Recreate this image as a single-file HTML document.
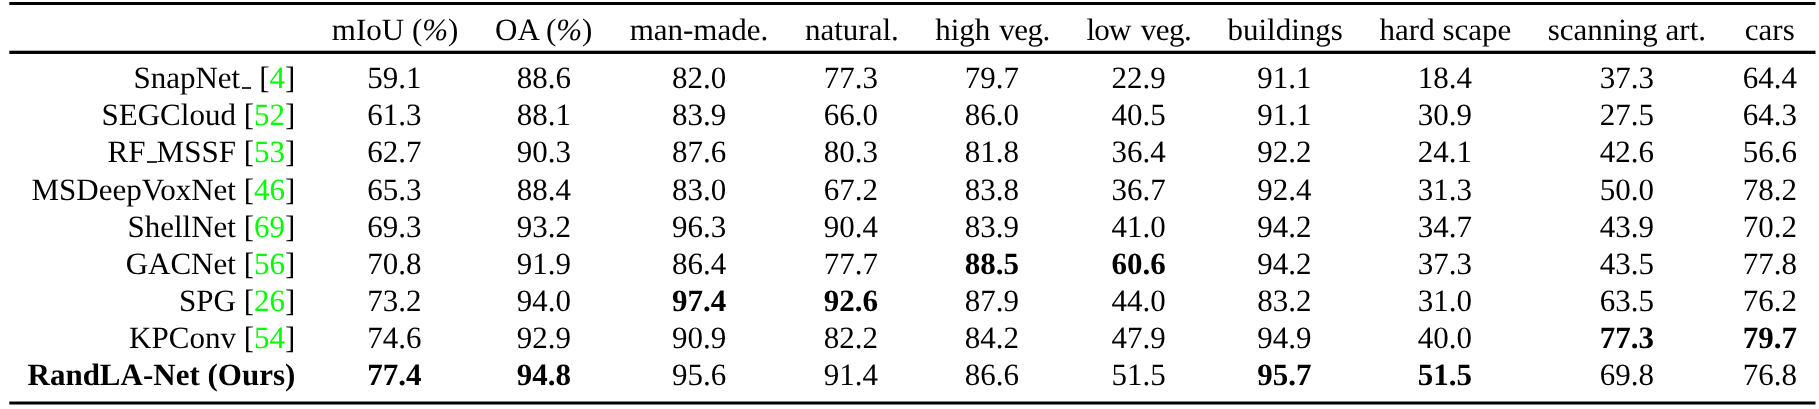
<!DOCTYPE html>
<html><head><meta charset="utf-8"><title>table</title>
<style>
html,body{margin:0;padding:0;background:#fff;}
body{width:1819px;height:409px;position:relative;overflow:hidden;font-family:"Liberation Serif",serif;font-size:31.00px;line-height:1;color:#000;text-rendering:geometricPrecision;}
.r{position:absolute;left:0;width:1819px;height:31.00px;}
.c{position:absolute;top:0;text-align:center;white-space:nowrap;}
.c.n{text-align:right;}
.w{position:absolute;left:0;top:0;width:1819px;height:409px;will-change:transform;}
.g{color:#00ff00;}
.u{display:inline-block;width:.3em;height:2px;margin-left:.06em;background:#2e2e2e;vertical-align:baseline;position:relative;top:1px;}
.rule{position:absolute;left:9.30px;width:1806.20px;background:#000;}
b{font-weight:bold;}
.k{letter-spacing:-.5px;}
.k2{letter-spacing:-.9px;}
i{font-style:italic;}
.u{font-style:normal;}
</style></head><body>
<svg width="1819" height="409" viewBox="0 0 1819 409" style="position:absolute;left:0;top:0"><rect x="9.30" y="2" width="1806.20" height="3" fill="#000"/><rect x="9.30" y="50.7" width="1806.20" height="3.25" fill="#000"/><rect x="9.30" y="401.5" width="1806.20" height="3" fill="#000"/></svg>
<div class="w">
<div class="r" style="top:14.04px"><div class="c n" style="left:27.50px;width:267.80px"></div><div class="c" style="left:331.84px;width:126.54px">mIoU (<i>%</i>)</div><div class="c" style="left:495.07px;width:97.29px">OA (<i>%</i>)</div><div class="c" style="left:629.65px;width:138.58px">man-made.</div><div class="c" style="left:804.98px;width:93.82px">natural.</div><div class="c" style="left:934.89px;width:115.37px"><span style="word-spacing:1.2px">high <span class="k">veg.</span></span></div><div class="c" style="left:1085.60px;width:106.76px"><span style="word-spacing:2.7px"><span class="k2">low</span> <span class="k">veg.</span></span></div><div class="c" style="left:1227.51px;width:115.40px">buildings</div><div class="c" style="left:1379.55px;width:131.68px">hard scape</div><div class="c" style="left:1547.67px;width:158.39px">scanning art.</div><div class="c" style="left:1742.65px;width:54.25px">cars</div></div>
<div class="r" style="top:62.26px"><div class="c n" style="left:27.50px;width:267.80px">SnapNet<i class="u"></i> [<span class="g">4</span>]</div><div class="c" style="left:331.04px;width:126.54px">59.1</div><div class="c" style="left:495.27px;width:97.29px">88.6</div><div class="c" style="left:629.95px;width:138.58px">82.0</div><div class="c" style="left:803.93px;width:93.82px">77.3</div><div class="c" style="left:934.29px;width:115.37px">79.7</div><div class="c" style="left:1085.25px;width:106.76px">22.9</div><div class="c" style="left:1226.66px;width:115.40px">91.1</div><div class="c" style="left:1379.15px;width:131.68px">18.4</div><div class="c" style="left:1547.77px;width:158.39px">37.3</div><div class="c" style="left:1742.80px;width:54.25px">64.4</div></div>
<div class="r" style="top:99.37px"><div class="c n" style="left:27.50px;width:267.80px">SEGCloud [<span class="g">52</span>]</div><div class="c" style="left:331.04px;width:126.54px">61.3</div><div class="c" style="left:495.27px;width:97.29px">88.1</div><div class="c" style="left:629.95px;width:138.58px">83.9</div><div class="c" style="left:803.93px;width:93.82px">66.0</div><div class="c" style="left:934.29px;width:115.37px">86.0</div><div class="c" style="left:1085.25px;width:106.76px">40.5</div><div class="c" style="left:1226.66px;width:115.40px">91.1</div><div class="c" style="left:1379.15px;width:131.68px">30.9</div><div class="c" style="left:1547.77px;width:158.39px">27.5</div><div class="c" style="left:1742.80px;width:54.25px">64.3</div></div>
<div class="r" style="top:136.48px"><div class="c n" style="left:27.50px;width:267.80px">RF<i class="u"></i>MSSF [<span class="g">53</span>]</div><div class="c" style="left:331.04px;width:126.54px">62.7</div><div class="c" style="left:495.27px;width:97.29px">90.3</div><div class="c" style="left:629.95px;width:138.58px">87.6</div><div class="c" style="left:803.93px;width:93.82px">80.3</div><div class="c" style="left:934.29px;width:115.37px">81.8</div><div class="c" style="left:1085.25px;width:106.76px">36.4</div><div class="c" style="left:1226.66px;width:115.40px">92.2</div><div class="c" style="left:1379.15px;width:131.68px">24.1</div><div class="c" style="left:1547.77px;width:158.39px">42.6</div><div class="c" style="left:1742.80px;width:54.25px">56.6</div></div>
<div class="r" style="top:173.59px"><div class="c n" style="left:27.50px;width:267.80px">MSDeepVoxNet [<span class="g">46</span>]</div><div class="c" style="left:331.04px;width:126.54px">65.3</div><div class="c" style="left:495.27px;width:97.29px">88.4</div><div class="c" style="left:629.95px;width:138.58px">83.0</div><div class="c" style="left:803.93px;width:93.82px">67.2</div><div class="c" style="left:934.29px;width:115.37px">83.8</div><div class="c" style="left:1085.25px;width:106.76px">36.7</div><div class="c" style="left:1226.66px;width:115.40px">92.4</div><div class="c" style="left:1379.15px;width:131.68px">31.3</div><div class="c" style="left:1547.77px;width:158.39px">50.0</div><div class="c" style="left:1742.80px;width:54.25px">78.2</div></div>
<div class="r" style="top:210.70px"><div class="c n" style="left:27.50px;width:267.80px">ShellNet [<span class="g">69</span>]</div><div class="c" style="left:331.04px;width:126.54px">69.3</div><div class="c" style="left:495.27px;width:97.29px">93.2</div><div class="c" style="left:629.95px;width:138.58px">96.3</div><div class="c" style="left:803.93px;width:93.82px">90.4</div><div class="c" style="left:934.29px;width:115.37px">83.9</div><div class="c" style="left:1085.25px;width:106.76px">41.0</div><div class="c" style="left:1226.66px;width:115.40px">94.2</div><div class="c" style="left:1379.15px;width:131.68px">34.7</div><div class="c" style="left:1547.77px;width:158.39px">43.9</div><div class="c" style="left:1742.80px;width:54.25px">70.2</div></div>
<div class="r" style="top:247.81px"><div class="c n" style="left:27.50px;width:267.80px">GACNet [<span class="g">56</span>]</div><div class="c" style="left:331.04px;width:126.54px">70.8</div><div class="c" style="left:495.27px;width:97.29px">91.9</div><div class="c" style="left:629.95px;width:138.58px">86.4</div><div class="c" style="left:803.93px;width:93.82px">77.7</div><div class="c" style="left:934.29px;width:115.37px"><b>88.5</b></div><div class="c" style="left:1085.25px;width:106.76px"><b>60.6</b></div><div class="c" style="left:1226.66px;width:115.40px">94.2</div><div class="c" style="left:1379.15px;width:131.68px">37.3</div><div class="c" style="left:1547.77px;width:158.39px">43.5</div><div class="c" style="left:1742.80px;width:54.25px">77.8</div></div>
<div class="r" style="top:284.92px"><div class="c n" style="left:27.50px;width:267.80px">SPG [<span class="g">26</span>]</div><div class="c" style="left:331.04px;width:126.54px">73.2</div><div class="c" style="left:495.27px;width:97.29px">94.0</div><div class="c" style="left:629.95px;width:138.58px"><b>97.4</b></div><div class="c" style="left:803.93px;width:93.82px"><b>92.6</b></div><div class="c" style="left:934.29px;width:115.37px">87.9</div><div class="c" style="left:1085.25px;width:106.76px">44.0</div><div class="c" style="left:1226.66px;width:115.40px">83.2</div><div class="c" style="left:1379.15px;width:131.68px">31.0</div><div class="c" style="left:1547.77px;width:158.39px">63.5</div><div class="c" style="left:1742.80px;width:54.25px">76.2</div></div>
<div class="r" style="top:322.03px"><div class="c n" style="left:27.50px;width:267.80px">KPConv [<span class="g">54</span>]</div><div class="c" style="left:331.04px;width:126.54px">74.6</div><div class="c" style="left:495.27px;width:97.29px">92.9</div><div class="c" style="left:629.95px;width:138.58px">90.9</div><div class="c" style="left:803.93px;width:93.82px">82.2</div><div class="c" style="left:934.29px;width:115.37px">84.2</div><div class="c" style="left:1085.25px;width:106.76px">47.9</div><div class="c" style="left:1226.66px;width:115.40px">94.9</div><div class="c" style="left:1379.15px;width:131.68px">40.0</div><div class="c" style="left:1547.77px;width:158.39px"><b>77.3</b></div><div class="c" style="left:1742.80px;width:54.25px"><b>79.7</b></div></div>
<div class="r" style="top:359.14px"><div class="c n" style="left:27.50px;width:267.80px"><b>RandLA-Net (Ours)</b></div><div class="c" style="left:331.04px;width:126.54px"><b>77.4</b></div><div class="c" style="left:495.27px;width:97.29px"><b>94.8</b></div><div class="c" style="left:629.95px;width:138.58px">95.6</div><div class="c" style="left:803.93px;width:93.82px">91.4</div><div class="c" style="left:934.29px;width:115.37px">86.6</div><div class="c" style="left:1085.25px;width:106.76px">51.5</div><div class="c" style="left:1226.66px;width:115.40px"><b>95.7</b></div><div class="c" style="left:1379.15px;width:131.68px"><b>51.5</b></div><div class="c" style="left:1547.77px;width:158.39px">69.8</div><div class="c" style="left:1742.80px;width:54.25px">76.8</div></div>
</div>
</body></html>
